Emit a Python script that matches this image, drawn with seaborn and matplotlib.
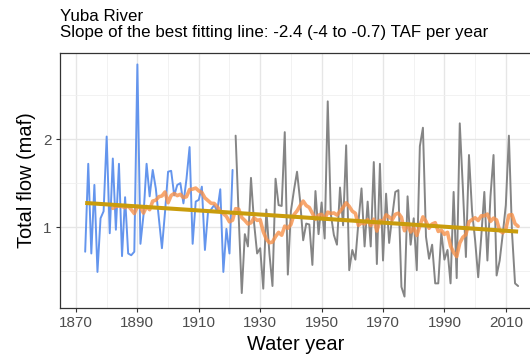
import numpy as np
import pandas as pd
import matplotlib
matplotlib.use("Agg")
import matplotlib.pyplot as plt
import seaborn as sns

# ---- data ----
years_early = list(range(1873, 1922))
flow_early = [0.72, 1.72, 0.70, 1.48, 0.49, 1.10, 1.18, 2.03, 0.93, 1.78,
              0.97, 1.72, 0.67, 1.34, 0.70, 0.68, 0.72, 2.85, 0.81, 1.14,
              1.72, 1.35, 1.65, 1.44, 1.10, 0.76, 1.17, 1.63, 1.64, 1.36,
              1.48, 1.50, 1.27, 1.55, 1.91, 0.81, 1.29, 1.31, 1.46, 0.74,
              1.17, 1.20, 1.25, 1.18, 1.43, 0.49, 0.98, 0.70, 1.65]

years_late = list(range(1922, 2015))
flow_late = [2.04, 1.12, 0.25, 0.92, 0.78, 1.56, 1.05, 0.70, 0.76, 0.30,
             1.20, 0.70, 0.33, 1.55, 1.25, 1.24, 2.08, 0.46, 1.18, 1.42,
             1.63, 1.30, 0.85, 1.04, 1.03, 0.57, 1.41, 0.92, 1.28, 0.87,
             2.43, 1.15, 0.91, 0.80, 1.45, 1.02, 1.93, 0.51, 0.74, 0.63,
             1.06, 1.44, 0.78, 1.29, 0.78, 1.74, 0.58, 1.72, 0.62, 1.38,
             0.82, 1.12, 1.40, 1.42, 0.32, 0.21, 1.35, 0.80, 1.10, 0.51,
             1.92, 2.13, 0.89, 0.64, 0.80, 0.36, 0.36, 0.94, 0.63, 0.74,
             0.36, 1.40, 0.42, 2.18, 1.45, 0.66, 1.82, 1.18, 0.85, 0.43,
             0.89, 1.40, 0.62, 1.35, 1.82, 0.45, 0.62, 0.92, 1.25, 2.04,
             0.95, 0.36, 0.33]

x_ticks = [1870, 1890, 1910, 1930, 1950, 1970, 1990, 2010]
y_ticks = [1, 2]
title_main = "Yuba River"
title_sub = "Slope of the best fitting line: -2.4 (-4 to -0.7) TAF per year"
x_label = "Water year"
y_label = "Total flow (maf)"

df_early = pd.DataFrame({"year": years_early, "flow": flow_early})
df_late = pd.DataFrame({"year": years_late, "flow": flow_late})
df_all = pd.concat([df_early, df_late], ignore_index=True)
df_all["ma10"] = df_all["flow"].rolling(10).mean()

# ---- style ----
sns.set_theme(style="white")
plt.rcParams["font.family"] = ["Liberation Sans", "DejaVu Sans"]

fig = plt.figure(figsize=(5.30, 3.56), dpi=100)
W, H = 530, 356
left, right, top, bottom = 60, 531, 53, 308
ax = fig.add_axes([left / W, 1 - bottom / H, (right - left) / W, (bottom - top) / H])

sns.lineplot(data=df_early, x="year", y="flow", color="#6495ED", lw=1.4, ax=ax)
sns.lineplot(data=df_late, x="year", y="flow", color="#858585", lw=1.4, ax=ax)
sns.lineplot(data=df_all.dropna(), x="year", y="ma10", color="#F7914A", alpha=0.8,
             lw=2.6, ax=ax)
sns.regplot(data=df_all, x="year", y="flow", scatter=False, ci=None, ax=ax,
            line_kws=dict(color="#C99C0C", lw=2.9, solid_capstyle="butt"))

ax.set_xlim(1864.8, 2018.2)
ax.set_ylim(0.08, 2.98)
ax.set_xticks(x_ticks)
ax.set_xticks([t + 10 for t in x_ticks[:-1]], minor=True)
ax.set_yticks(y_ticks)
ax.set_yticks([0.5, 1.5, 2.5], minor=True)
ax.set_yticklabels([str(v) for v in y_ticks])

ax.grid(which="major", color="#E6E6E6", lw=1.0)
ax.grid(which="minor", color="#F0F0F0", lw=0.6)
ax.set_axisbelow(True)

for s in ["left", "top", "bottom"]:
    ax.spines[s].set_visible(True)
    ax.spines[s].set_color("#333333")
    ax.spines[s].set_linewidth(0.9)
ax.spines["right"].set_visible(False)

ax.tick_params(axis="both", which="major", bottom=True, left=True, length=3,
               width=0.8, color="#333333", labelcolor="#4D4D4D",
               labelsize=11, pad=3)
ax.tick_params(axis="both", which="minor", length=0)

ax.set_xlabel(x_label, fontsize=14.4, color="black", labelpad=3)
ax.set_ylabel(y_label, fontsize=14.4, color="black", labelpad=5)

fig.text(left / W, 1 - 21 / H, title_main, fontsize=12.2, color="black",
         ha="left", va="baseline")
fig.text(left / W, 1 - 37 / H, title_sub, fontsize=12.2, color="black",
         ha="left", va="baseline")

fig.savefig("out.png", dpi=100)
